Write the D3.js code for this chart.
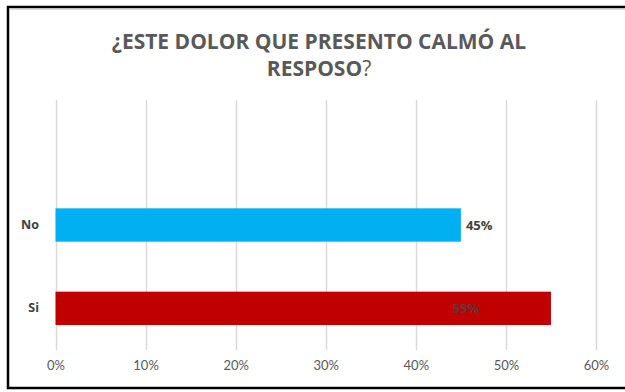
<!DOCTYPE html>
<html>
<head>
<meta charset="utf-8">
<script src="https://cdn.jsdelivr.net/npm/d3@7"></script>
<style>
  html, body { margin: 0; padding: 0; background: #fff; }
  svg { display: block; }
</style>
</head>
<body>
<svg id="chart" width="625" height="392"></svg>
<script>
// Answers to the question, in display order (top to bottom)
const categories = ["No", "Si"];
const values = [45, 55];               // percent
const barColors = ["#00B0F0", "#C00000"];
const tickValues = [0, 10, 20, 30, 40, 50, 60];
const titleLines = ["¿ESTE DOLOR QUE PRESENTO CALMÓ AL", "RESPOSO"];

const svg = d3.select("#chart");
const W = 625, H = 392;

// Outer frame (the right edge runs off the canvas)
svg.append("rect")
  .attr("x", 8).attr("y", 7)
  .attr("width", 680).attr("height", 381)
  .attr("fill", "#fff")
  .attr("stroke", "#000").attr("stroke-width", 2.5);
svg.append("line")
  .attr("x1", 9.5).attr("x2", W).attr("y1", 9.5).attr("y2", 9.5)
  .attr("stroke", "#d9d9d9").attr("stroke-width", 1);

// Plot area
const plotTop = 100, plotBottom = 350;
const x = d3.scaleLinear().domain([0, 60]).range([55.5, 596]);
const y = d3.scaleBand()
  .domain(categories)
  .range([plotTop + (plotBottom - plotTop) / 3, plotBottom])
  .paddingInner(0.6).paddingOuter(0.3);

// Vertical gridlines
svg.append("g")
  .selectAll("line")
  .data(tickValues)
  .join("line")
  .attr("x1", d => Math.round(x(d)) + 0.5)
  .attr("x2", d => Math.round(x(d)) + 0.5)
  .attr("y1", plotTop).attr("y2", plotBottom)
  .attr("stroke", "#d9d9d9").attr("stroke-width", 1.5);

// Bottom axis labels
const xAxis = d3.axisBottom(x)
  .tickValues(tickValues)
  .tickFormat(d => d + "%")
  .tickSize(0).tickPadding(0);
const gx = svg.append("g")
  .attr("transform", `translate(0, ${plotBottom + 11})`)
  .call(xAxis);
gx.select(".domain").remove();
gx.selectAll("text")
  .attr("dy", "0.71em")
  .attr("fill", "#595959")
  .style("font-family", "Lato, 'Open Sans', sans-serif")
  .style("font-size", "13px");

// Category axis labels
const yAxis = d3.axisLeft(y).tickSize(0).tickPadding(0);
const gy = svg.append("g")
  .attr("transform", "translate(39, 0)")
  .call(yAxis);
gy.select(".domain").remove();
gy.selectAll("text")
  .attr("fill", "#404040")
  .style("font-family", "'Open Sans', sans-serif")
  .style("font-weight", "700")
  .style("font-size", "12.5px");

// Bars
svg.append("g")
  .selectAll("rect")
  .data(categories)
  .join("rect")
  .attr("x", x(0))
  .attr("y", d => y(d))
  .attr("width", (d, i) => x(values[i]) - x(0))
  .attr("height", y.bandwidth())
  .attr("fill", (d, i) => barColors[i]);

// Value labels: first outside the bar end, second inside the bar
svg.append("g")
  .selectAll("text")
  .data(categories)
  .join("text")
  .attr("x", (d, i) => i === 0 ? x(values[i]) + 5 : x(values[i]) - 85)
  .attr("y", d => y(d) + y.bandwidth() / 2)
  .attr("dy", "0.35em")
  .attr("text-anchor", (d, i) => i === 0 ? "start" : "middle")
  .attr("fill", (d, i) => i === 0 ? "#404040" : "#5a3a3a")
  .style("font-family", "'Open Sans', sans-serif")
  .style("font-weight", "700")
  .style("font-size", "13px")
  .text((d, i) => values[i] + "%");

// Title
const title = svg.append("text")
  .attr("text-anchor", "middle")
  .attr("fill", "#595959")
  .style("font-family", "'Open Sans', sans-serif")
  .style("font-size", "21px");
title.append("tspan")
  .attr("x", 319).attr("y", 49)
  .style("font-weight", "700")
  .text(titleLines[0]);
const line2 = title.append("tspan")
  .attr("x", 319).attr("y", 76);
line2.append("tspan").style("font-weight", "700").text(titleLines[1]);
line2.append("tspan").style("font-weight", "400").text("?");
</script>
</body>
</html>
